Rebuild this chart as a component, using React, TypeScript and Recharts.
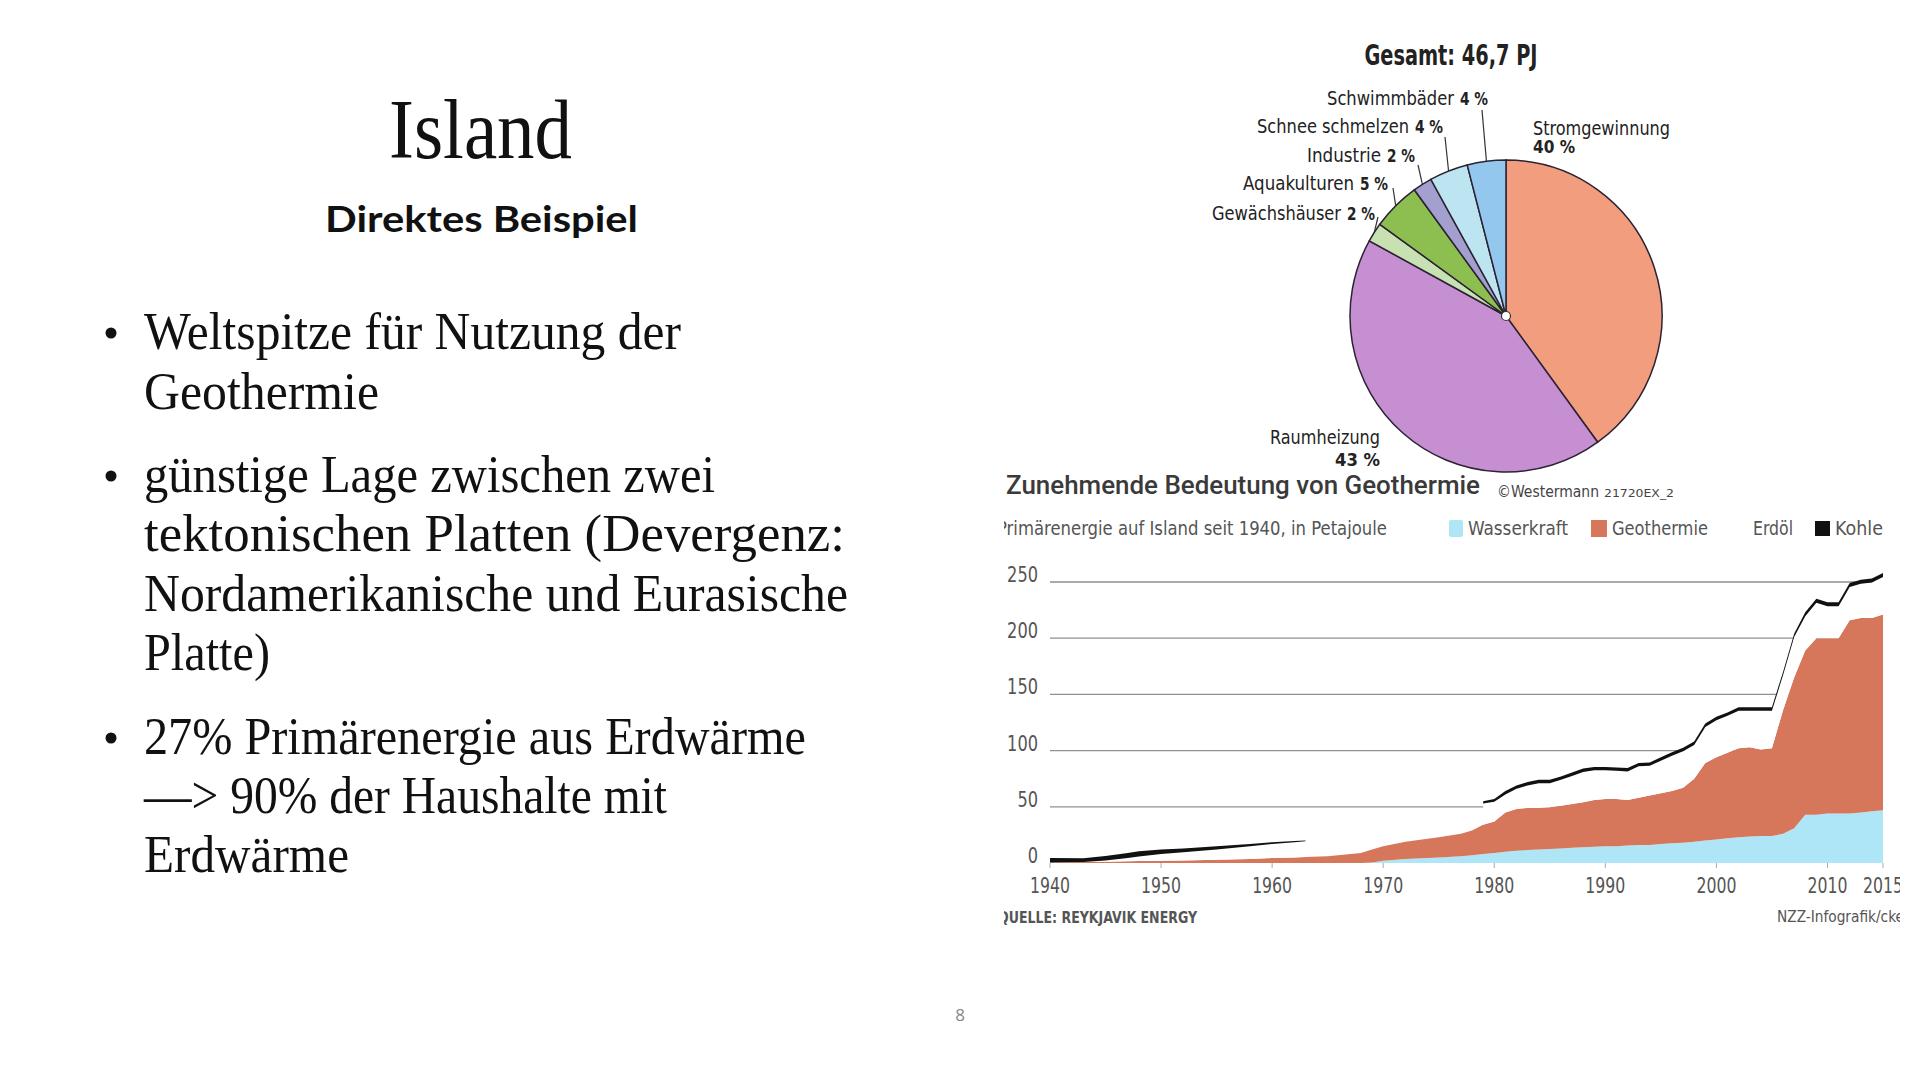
import { AreaChart, Area, XAxis, YAxis, CartesianGrid, PieChart, Pie, Cell } from 'recharts'

// Primärenergie auf Island seit 1940, in Petajoule
const years = [
  1940, 1943, 1945, 1947, 1948, 1950, 1952, 1955, 1958, 1960, 1962, 1963,
  1965, 1968, 1969, 1970, 1972, 1975, 1977, 1978,
  1979, 1980, 1981, 1982, 1983, 1984, 1985, 1986, 1987, 1988, 1989, 1990,
  1991, 1992, 1993, 1994, 1995, 1996, 1997, 1998, 1999, 2000, 2001, 2002,
  2003, 2004, 2005, 2006, 2007, 2008, 2009, 2010, 2011, 2012, 2013, 2014, 2015,
]
const wasserkraft = [
  0, 0, 0, 0, 0, 0, 0, 0, 0, 0, 0, 0,
  0, 0, 0.5, 2, 3.5, 5, 6, 7,
  8, 9, 10, 11, 11.5, 12, 12.5, 13, 13.5, 14, 14.5, 15,
  15, 15.5, 16, 16, 17, 17.5, 18, 19, 20, 21, 22, 23,
  23.5, 24, 24, 26, 31, 43, 43, 44, 44, 44, 45, 46, 47,
]
const geothermie = [
  0.5, 0.8, 1.2, 1.5, 1.8, 2, 2.2, 3, 3.5, 4.5, 5, 5.3,
  6, 9, 11.5, 13, 15.5, 18, 20, 22,
  26, 28, 35, 37, 37.5, 37, 37, 38, 39, 40, 41.5, 42,
  42, 40.5, 42, 44, 45, 46.5, 49, 56, 69, 73, 76, 79,
  79.5, 77, 78, 110, 134, 146, 157, 156, 156, 172, 173, 172, 174,
]
const erdoel = [
  0, 0, 1, 3, 4, 6, 7.3, 9, 11.5, 12.5, 13.5, 14,
  null, null, null, null, null, null, null, null,
  19, 17.5, 16, 18, 20, 22, 21.5, 23, 25, 27, 26.5, 25.5,
  25, 25.5, 28, 26.5, 29, 31.5, 32.5, 30, 32, 33, 33, 33.5,
  32.5, 34.5, 33.5, 31, 36, 30.5, 31.5, 28.5, 28.5, 29.5, 30.5, 31.5, 33.5,
]
const kohle = [
  4, 3.5, 4, 4.5, 4.7, 4, 3.5, 3, 2, 1.5, 1, 0.7,
  null, null, null, null, null, null, null, null,
  2, 2.5, 3, 3, 3, 3, 3, 3, 3, 3, 3, 3,
  3, 3, 3, 3, 3, 3, 3, 3, 3, 3, 3, 3,
  3, 3, 3, 3, 3, 3.5, 3.5, 3.5, 3.5, 3.5, 3.5, 3.5, 3.5,
]
const xTicks = [1940, 1950, 1960, 1970, 1980, 1990, 2000, 2010, 2015]
const yTicks = [0, 50, 100, 150, 200, 250]

// Geothermie-Nutzung, Gesamt 46,7 PJ
const pieNames = ['Stromgewinnung', 'Raumheizung', 'Gewächshäuser', 'Aquakulturen', 'Industrie', 'Schnee schmelzen', 'Schwimmbäder']
const pieShares = [40, 43, 2, 5, 2, 4, 4]
const pieColors = ['#f29d7e', '#c68fd2', '#c8e1b2', '#8cbf4f', '#a3a0cf', '#bde5f1', '#93c7ee']

const areaData = years.map((year, i) => ({
  year,
  wasserkraft: wasserkraft[i],
  geothermie: geothermie[i],
  erdoel: erdoel[i],
  kohle: kohle[i],
}))
const pieData = pieNames.map((name, i) => ({ name, value: pieShares[i] }))

const narrow = "'Liberation Sans Narrow', 'Arial Narrow', 'DejaVu Sans Condensed', sans-serif"
const serif = "'Liberation Serif', 'DejaVu Serif', serif"
const fit = { lengthAdjust: 'spacingAndGlyphs' as const }

// label placement relative to the pie centre: text anchor, baselines, widths, leader start
const pieLabelLayout = [
  { dx: 27, anchor: 'start', lines: [-181, -163], widths: [137, 42], leader: null },
  { dx: -126, anchor: 'end', lines: [128, 150], widths: [110, 45], leader: null },
  { dx: -131, anchor: 'end', lines: [-96], widths: [163], leader: [-128, -99] },
  { dx: -118, anchor: 'end', lines: [-126], widths: [145], leader: [-113, -128] },
  { dx: -91, anchor: 'end', lines: [-154], widths: [108], leader: [-88, -151] },
  { dx: -63, anchor: 'end', lines: [-183], widths: [186], leader: [-61, -179] },
  { dx: -18, anchor: 'end', lines: [-211], widths: [161], leader: [-24, -206] },
]
const pctWidth = 28
const pctGap = 6

const RAD = Math.PI / 180

function renderPieLabel(props: any) {
  const { cx, cy, midAngle, outerRadius, index } = props
  const layout = pieLabelLayout[index]
  const name = pieNames[index]
  const pct = `${pieShares[index]} %`
  const ex = cx + outerRadius * Math.cos(-midAngle * RAD)
  const ey = cy + outerRadius * Math.sin(-midAngle * RAD)
  const common = { fontFamily: narrow, fill: '#222' }
  const tx = cx + layout.dx
  return (
    <g key={`lbl-${index}`}>
      {layout.leader && (
        <line
          x1={cx + layout.leader[0]}
          y1={cy + layout.leader[1]}
          x2={ex}
          y2={ey}
          stroke="#333"
          strokeWidth={1.2}
        />
      )}
      {layout.lines.length === 2 ? (
        <>
          <text x={tx} y={cy + layout.lines[0]} textAnchor={layout.anchor} textLength={layout.widths[0]} {...fit} {...common} fontSize={19}>
            {name}
          </text>
          <text x={tx} y={cy + layout.lines[1]} textAnchor={layout.anchor} textLength={layout.widths[1]} {...fit} {...common} fontSize={18} fontWeight="bold">
            {pct}
          </text>
        </>
      ) : (
        <>
          <text x={tx - pctWidth - pctGap} y={cy + layout.lines[0]} textAnchor="end" textLength={layout.widths[0] - pctWidth - pctGap} {...fit} {...common} fontSize={20}>
            {name}
          </text>
          <text x={tx} y={cy + layout.lines[0]} textAnchor="end" textLength={pctWidth} {...fit} {...common} fontSize={18} fontWeight="bold">
            {pct}
          </text>
        </>
      )}
      {index === 0 && <circle cx={cx} cy={cy} r={4.5} fill="#fff" stroke="#333" strokeWidth={1.2} />}
    </g>
  )
}

const XTick = ({ x, y, payload }: any) => (
  <text x={x} y={y + 23} textAnchor="middle" fontFamily={narrow} fontSize={21} fill="#555" textLength={String(payload.value).length * 10} {...fit}>
    {payload.value}
  </text>
)

const YTick = ({ x, y, payload }: any) => (
  <text x={x} y={y} textAnchor="end" fontFamily={narrow} fontSize={21} fill="#555" textLength={String(payload.value).length * 10.3} {...fit}>
    {payload.value}
  </text>
)

const bulletLines = [
  { text: 'Weltspitze für Nutzung der', y: 349, w: 537, dot: true },
  { text: 'Geothermie', y: 409, w: 235, dot: false },
  { text: 'günstige Lage zwischen zwei', y: 492, w: 571, dot: true },
  { text: 'tektonischen Platten (Devergenz:', y: 551, w: 701, dot: false },
  { text: 'Nordamerikanische und Eurasische', y: 611, w: 704, dot: false },
  { text: 'Platte)', y: 670, w: 126, dot: false },
  { text: '27% Primärenergie aus Erdwärme', y: 754, w: 662, dot: true },
  { text: '—> 90% der Haushalte mit', y: 813, w: 523, dot: false },
  { text: 'Erdwärme', y: 872, w: 205, dot: false },
]

export default function App() {
  return (
    <div style={{ position: 'absolute', left: 0, top: 0, width: 1920, height: 1080, background: '#fff', overflow: 'hidden' }}>
      {/* slide text */}
      <svg width={1920} height={1080} style={{ position: 'absolute', left: 0, top: 0 }}>
        <text x={389} y={158} fontFamily={serif} fontSize={85} fill="#111" textLength={183} {...fit}>
          Island
        </text>
        <text x={325} y={232} fontFamily="Lato, 'Open Sans', sans-serif" fontWeight={700} fontSize={37} fill="#111" textLength={313} {...fit}>
          Direktes Beispiel
        </text>
        {bulletLines.map((l) => (
          <g key={l.text}>
            {l.dot && <circle cx={111} cy={l.y - 16} r={5.5} fill="#111" />}
            <text x={144} y={l.y} fontFamily={serif} fontSize={52} fill="#111" textLength={l.w} {...fit}>
              {l.text}
            </text>
          </g>
        ))}
        <text x={960} y={1021} textAnchor="middle" fontFamily="'Open Sans', sans-serif" fontSize={17} fill="#888">
          8
        </text>
        <text x={1451} y={65} textAnchor="middle" fontFamily={narrow} fontWeight="bold" fontSize={28} fill="#222" textLength={173} {...fit}>
          Gesamt: 46,7 PJ
        </text>
      </svg>

      {/* pie */}
      <div style={{ position: 'absolute', left: 1180, top: 20 }}>
        <PieChart width={520} height={460}>
          <Pie
            data={pieData}
            dataKey="value"
            nameKey="name"
            cx={321}
            cy={291}
            outerRadius={156}
            startAngle={90}
            endAngle={-270}
            stroke="#2b2233"
            strokeWidth={1.5}
            label={renderPieLabel}
            labelLine={false}
            isAnimationActive={false}
          >
            {pieData.map((d, i) => (
              <Cell key={d.name} fill={pieColors[i]} />
            ))}
          </Pie>
        </PieChart>
      </div>

      {/* area chart, cropped like the scanned graphic */}
      <div style={{ position: 'absolute', left: 1004, top: 460, width: 896, height: 480, overflow: 'hidden' }}>
        <div style={{ position: 'absolute', left: -9, top: 80 }}>
          <AreaChart width={910} height={370} data={areaData} margin={{ top: 28.5, right: 22, bottom: 17, left: 0 }}>
            <CartesianGrid vertical={false} horizontalValues={[50, 100, 150, 200, 250]} stroke="#8f8f8f" strokeWidth={1.3} />
            <XAxis
              dataKey="year"
              type="number"
              domain={[1940, 2015]}
              ticks={xTicks}
              interval={0}
              height={30}
              axisLine={false}
              tickLine={{ stroke: '#aaa' }}
              tickSize={5}
              tickMargin={2}
              tick={<XTick />}
            />
            <YAxis
              type="number"
              domain={[0, 262]}
              ticks={yTicks}
              width={55}
              axisLine={false}
              tickLine={false}
              tickSize={0}
              tickMargin={12}
              tick={<YTick />}
            />
            <Area type="linear" dataKey="wasserkraft" stackId="a" stroke="none" fill="#aee6f8" fillOpacity={1} dot={false} activeDot={false} isAnimationActive={false} />
            <Area type="linear" dataKey="geothermie" stackId="a" stroke="none" fill="#d6765a" fillOpacity={1} dot={false} activeDot={false} isAnimationActive={false} />
            <Area type="linear" dataKey="erdoel" stackId="a" stroke="none" fill="#ffffff" fillOpacity={1} dot={false} activeDot={false} isAnimationActive={false} />
            <Area type="linear" dataKey="kohle" stackId="a" stroke="none" fill="#111111" fillOpacity={1} dot={false} activeDot={false} isAnimationActive={false} />
          </AreaChart>
        </div>
        <svg width={1920} height={1080} style={{ position: 'absolute', left: -1004, top: -460, pointerEvents: 'none' }}>
          <text x={1006} y={494} fontFamily="Roboto, 'Liberation Sans', sans-serif" fontWeight={500} fontSize={25} fill="#3a3a3a" textLength={474} {...fit}>
            Zunehmende Bedeutung von Geothermie
          </text>
          <text x={1497} y={497} fontFamily={narrow} fontSize={15} fill="#444" textLength={102} {...fit}>
            ©Westermann
          </text>
          <text x={1604} y={497} fontFamily={narrow} fontSize={11} fill="#444" textLength={70} {...fit}>
            21720EX_2
          </text>
          <text x={997} y={535} fontFamily={narrow} fontSize={19} fill="#555" textLength={390} {...fit}>
            Primärenergie auf Island seit 1940, in Petajoule
          </text>
          <rect x={1449} y={520} width={14} height={17} rx={2} fill="#aee6f8" />
          <text x={1468} y={535} fontFamily={narrow} fontSize={19} fill="#555" textLength={100} {...fit}>
            Wasserkraft
          </text>
          <rect x={1591} y={520} width={16} height={17} fill="#d6765a" />
          <text x={1612} y={535} fontFamily={narrow} fontSize={19} fill="#555" textLength={96} {...fit}>
            Geothermie
          </text>
          <text x={1753} y={535} fontFamily={narrow} fontSize={19} fill="#555" textLength={40} {...fit}>
            Erdöl
          </text>
          <rect x={1815} y={521} width={15} height={15} fill="#111" />
          <text x={1835} y={535} fontFamily={narrow} fontSize={19} fill="#555" textLength={48} {...fit}>
            Kohle
          </text>
          <text x={998} y={923} fontFamily={narrow} fontWeight="bold" fontSize={16} fill="#555" textLength={199} {...fit}>
            QUELLE: REYKJAVIK ENERGY
          </text>
          <text x={1777} y={922} fontFamily={narrow} fontSize={16} fill="#555" textLength={127} {...fit}>
            NZZ-Infografik/cke
          </text>
        </svg>
      </div>
    </div>
  )
}
